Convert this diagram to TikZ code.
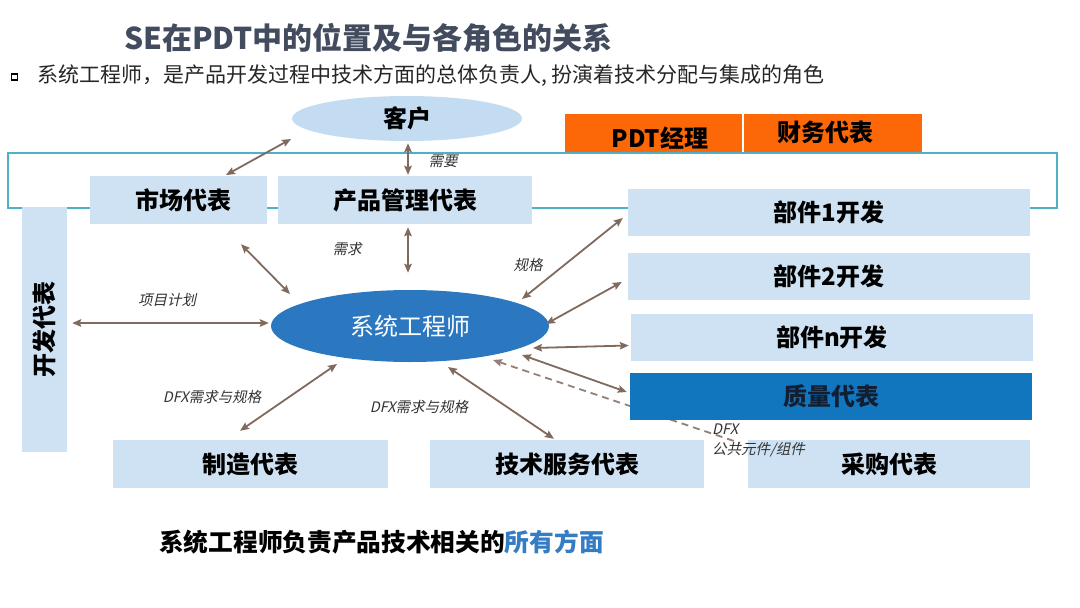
\documentclass[tikz,border=0pt]{standalone}
\usepackage{fontspec}
\setmainfont{Noto Sans CJK SC}
\newfontfamily\lab[FakeSlant=0.22]{Noto Sans CJK SC}
\usetikzlibrary{arrows.meta,shapes.geometric}
\definecolor{boxfill}{RGB}{207,226,243}
\definecolor{ellfill}{RGB}{196,220,241}
\definecolor{sefill}{RGB}{44,120,192}
\definecolor{qfill}{RGB}{18,118,190}
\definecolor{orng}{RGB}{252,104,8}
\definecolor{framec}{RGB}{80,176,200}
\definecolor{arrc}{RGB}{128,106,94}
\definecolor{titlec}{RGB}{66,76,94}
\definecolor{bluetxt}{RGB}{52,124,196}
\definecolor{qtxt}{RGB}{18,30,50}
\pgfdeclarelayer{bg}
\pgfdeclarelayer{mid}
\pgfsetlayers{bg,mid,main}
\begin{document}
\begin{tikzpicture}[x=1pt,y=-1pt,
  box/.style={rectangle, fill=boxfill, inner sep=0pt, font=\fontsize{24}{28}\selectfont\bfseries},
  obox/.style={rectangle, fill=orng, inner sep=0pt},
  btxt/.style={inner sep=0pt, font=\fontsize{24}{28}\selectfont\bfseries},
  lbl/.style={font=\lab\fontsize{14.5}{17}\selectfont, text=black!80, inner sep=0pt},
  arr/.style={draw=arrc, line width=1.8pt, {Stealth[length=9pt,width=7.5pt,inset=1.5pt]}-{Stealth[length=9pt,width=7.5pt,inset=1.5pt]}},
  darr/.style={draw=arrc!85, line width=1.8pt, dash pattern=on 7pt off 5pt, {Stealth[length=9pt,width=7.5pt,inset=1.5pt]}-}
]
\useasboundingbox (0,0) rectangle (1080,608);
\begin{pgfonlayer}{bg}
\fill[white] (0,0) rectangle (1080,608);
% frame
\draw[framec, line width=1.3pt] (8,153) rectangle (1057,208);
\end{pgfonlayer}

% title and bullet
\node[anchor=west, inner sep=0pt, text=titlec, font=\fontsize{30}{34}\selectfont\bfseries] (title) at (124,38) {SE在PDT中的位置及与各角色的关系};
\node[draw=black, line width=1.2pt, minimum size=6pt, inner sep=0pt] (bul) at (14.5,77) {};
\node[anchor=west, inner sep=0pt, text=black!85, font=\fontsize{21}{26}\selectfont] (sub) at (37,76) {系统工程师，是产品开发过程中技术方面的总体负责人, 扮演着技术分配与集成的角色};

% ellipses
\node[ellipse, fill=ellfill, minimum width=230pt, minimum height=45pt, inner sep=0pt, font=\fontsize{24}{28}\selectfont\bfseries] (kh) at (407,118.5) {客户};
\node[ellipse, fill=sefill, minimum width=278pt, minimum height=72pt, inner sep=0pt, text=white, font=\fontsize{24}{28}\selectfont] (se) at (410,326) {系统工程师};

% orange boxes
\node[obox, minimum width=177pt, minimum height=38pt] (pdt) at (653.5,133) {};
\node[btxt] (pdtt) at (660,138) {PDT经理};
\node[obox, minimum width=178pt, minimum height=38pt] (cw) at (833,133) {};
\node[btxt] (cwt) at (825,132) {财务代表};

% boxes
\node[box, minimum width=177pt, minimum height=48pt] (sc) at (178.5,200) {\hspace*{10pt}市场代表};
\node[box, minimum width=254pt, minimum height=48pt] (cp) at (405,200) {产品管理代表};
\node[box, minimum width=45pt, minimum height=245pt] (kf) at (44.5,329.5) {};
\node[btxt, rotate=90] (kft) at (kf.center) {开发代表};
\node[box, minimum width=402pt, minimum height=47pt] (b1) at (829,212.5) {部件1开发};
\node[box, minimum width=402pt, minimum height=47pt] (b2) at (829,276.5) {部件2开发};
\node[box, minimum width=402pt, minimum height=47pt] (bn) at (832,337.5) {部件n开发};
\node[box, fill=qfill, text=qtxt, minimum width=402pt, minimum height=47pt] (zl) at (831,396.5) {质量代表};
\node[box, minimum width=275pt, minimum height=48pt] (zz) at (250.5,464) {制造代表};
\node[box, minimum width=274pt, minimum height=48pt] (js) at (567,464) {技术服务代表};
\node[box, minimum width=282pt, minimum height=48pt] (cg) at (889,464) {采购代表};

% dashed connector (behind quality box) and its label
\node[lbl, anchor=north west, align=left] (dfx) at (712,424) {DFX\\[3pt]公共元件/组件};
\coordinate (dend) at ([shift={(28,19)}]dfx.north west);
\begin{pgfonlayer}{mid}
\draw[darr] ([shift={(83,34)}]se.center) -- (dend);
\end{pgfonlayer}

% arrows
\draw[arr] ([shift={(-116,20.5)}]kh.center) -- ([shift={(47.5,-25)}]sc.center);
\draw[arr] ([shift={(1,2)}]kh.south) -- ([shift={(3,-1)}]cp.north);
\draw[arr] ([shift={(62.5,20)}]sc.south) -- ([shift={(-120,-32)}]se.center);
\draw[arr] ([shift={(3,3)}]cp.south) -- ([shift={(-2,-17)}]se.north);
\draw[arr] ([shift={(112,-27)}]se.center) -- ([shift={(-5,5.5)}]b1.west);
\draw[arr] ([shift={(136,-2)}]se.center) -- ([shift={(-6,5.5)}]b2.west);
\draw[arr] ([shift={(123,22)}]se.center) -- ([shift={(-2,8)}]bn.west);
\draw[arr] ([shift={(112,29)}]se.center) -- ([shift={(-3,-4.5)}]zl.west);
\draw[arr] ([shift={(-73,38)}]se.center) -- ([shift={(-10.5,-9)}]zz.north);
\draw[arr] ([shift={(38,41)}]se.center) -- ([shift={(-13,-1)}]js.north);
\draw[arr] ([shift={(5,-6.5)}]kf.east) -- ([shift={(-2,-3)}]se.west);

% connector labels
\node[lbl] (l1) at (443,161) {需要};
\node[lbl] (l2) at (347,249) {需求};
\node[lbl] (l3) at (528,265) {规格};
\node[lbl] (l4) at (167,300) {项目计划};
\node[lbl] (l5) at (212,397) {DFX需求与规格};
\node[lbl] (l6) at (419,407) {DFX需求与规格};

% bottom text
\node[anchor=west, inner sep=0pt, font=\fontsize{24.7}{30}\selectfont\bfseries] (bottom) at (159,542) {系统工程师负责产品技术相关的\textcolor{bluetxt}{所有方面}};
\end{tikzpicture}
\end{document}
